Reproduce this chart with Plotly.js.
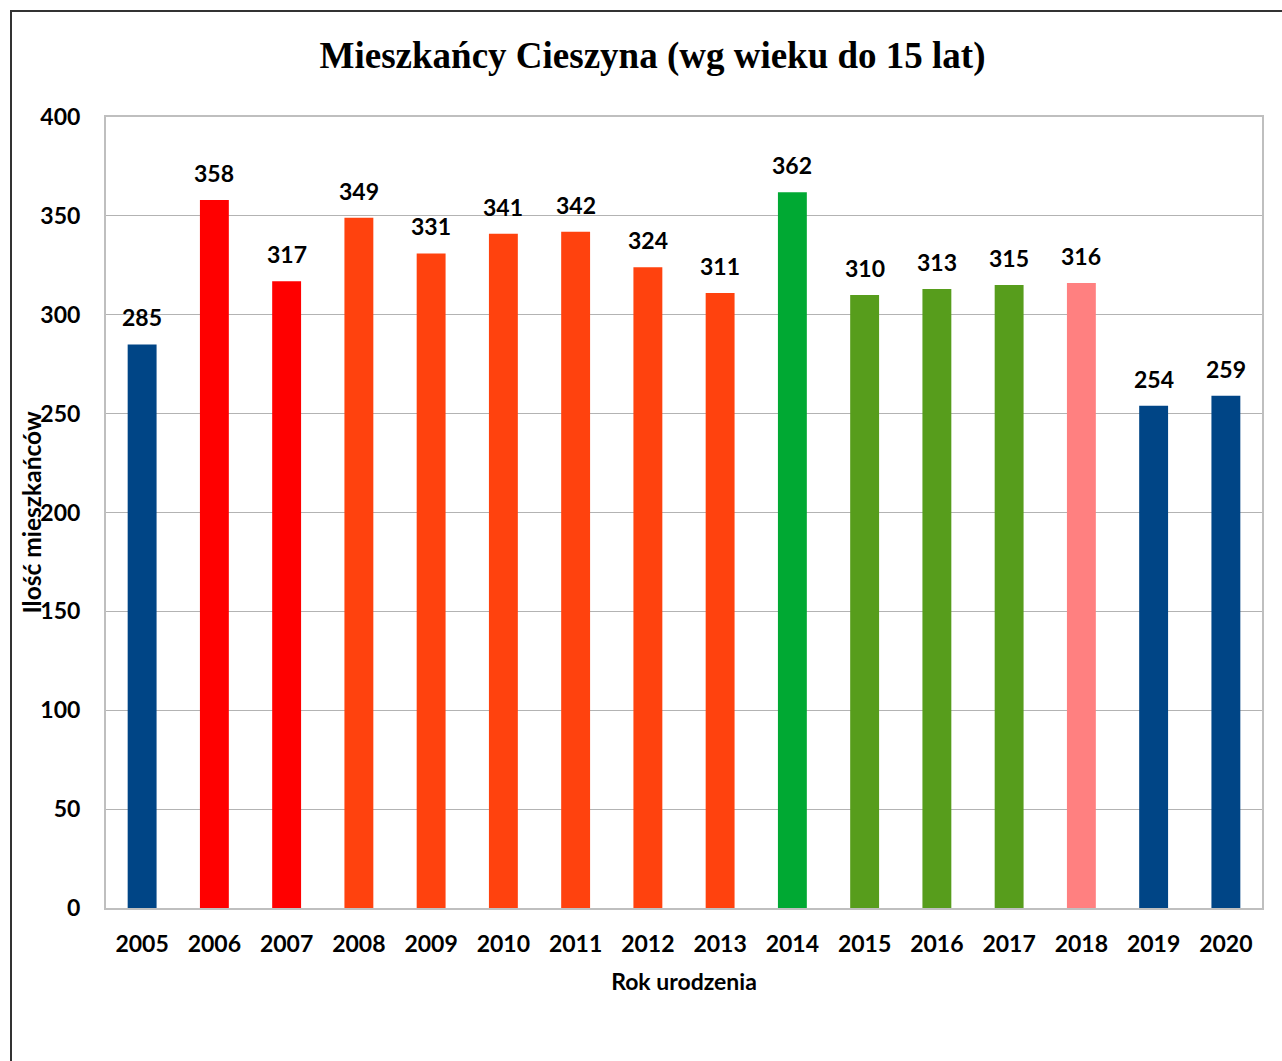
<!DOCTYPE html>
<html>
<head>
<meta charset="utf-8">
<script src="https://cdn.plot.ly/plotly-3.0.1.min.js"></script>
<style>
html,body{margin:0;padding:0;background:#fff;}
#frame{position:absolute;left:10px;top:10px;width:1300px;height:1080px;border-left:2px solid #333;border-top:2px solid #333;}
#chart{position:absolute;left:0;top:0;width:1282px;height:1061px;}
</style>
</head>
<body>
<div id="frame"></div>
<div id="chart"></div>
<script>
const years = ['2005','2006','2007','2008','2009','2010','2011','2012','2013','2014','2015','2016','2017','2018','2019','2020'];
const residents = [285,358,317,349,331,341,342,324,311,362,310,313,315,316,254,259];
const barColors = ['#004586','#ff0000','#ff0000','#ff420e','#ff420e','#ff420e','#ff420e','#ff420e','#ff420e','#00a933','#579d1c','#579d1c','#579d1c','#ff8080','#004586','#004586'];
const yTicks = [0,50,100,150,200,250,300,350,400];

const FONT = 'Lato, "Open Sans", sans-serif';

const trace = {
  type:'bar', x:years, y:residents,
  marker:{color:barColors, line:{width:0}},
  hoverinfo:'none'
};

const annotations = years.map((yr,i)=>({
  x:i, y:residents[i], xref:'x', yref:'y',
  text:String(residents[i]), showarrow:false,
  yanchor:'bottom', yshift:11,
  font:{family:FONT, size:23, color:'#000', weight:'bold'}
}));
annotations.push({
  xref:'paper', yref:'paper', x:(31-106)/1156, y:0.5, xanchor:'center', yanchor:'middle',
  text:'Ilość mieszkańców', textangle:-90, showarrow:false,
  font:{family:FONT, size:24.5, color:'#000', weight:'bold'}
});

const layout = {
  width:1282, height:1061,
  margin:{l:106, r:20, t:117, b:153},
  paper_bgcolor:'rgba(0,0,0,0)', plot_bgcolor:'#fff',
  bargap:0.6,
  showlegend:false,
  title:{text:'<b>Mieszkańcy Cieszyna (wg wieku do 15 lat)</b>', font:{family:'"Liberation Serif", serif', size:37, color:'#000'}, x:0.509, xanchor:'center', y:0.948, yanchor:'middle'},
  xaxis:{
    type:'category', range:[-0.5, years.length-0.5], autorange:false,
    showline:true, linecolor:'#bfbfbf', linewidth:2, mirror:true,
    showgrid:false, ticks:'',
    tickfont:{family:FONT, size:23, color:'#000', weight:'bold'},
    ticklabelstandoff:14,
    title:{text:'Rok urodzenia', font:{family:FONT, size:23, color:'#000', weight:'bold'}, standoff:18}
  },
  yaxis:{
    range:[0,400], autorange:false, tickvals:yTicks, ticktext:yTicks.map(String),
    showline:true, linecolor:'#bfbfbf', linewidth:2, mirror:true,
    showgrid:true, gridcolor:'#b3b3b3', gridwidth:1, zeroline:false, ticks:'',
    tickfont:{family:FONT, size:23, color:'#000', weight:'bold'},
    ticklabelstandoff:19
  },
  annotations:annotations
};

Plotly.newPlot('chart',[trace],layout,{displayModeBar:false, staticPlot:true});
</script>
</body>
</html>
